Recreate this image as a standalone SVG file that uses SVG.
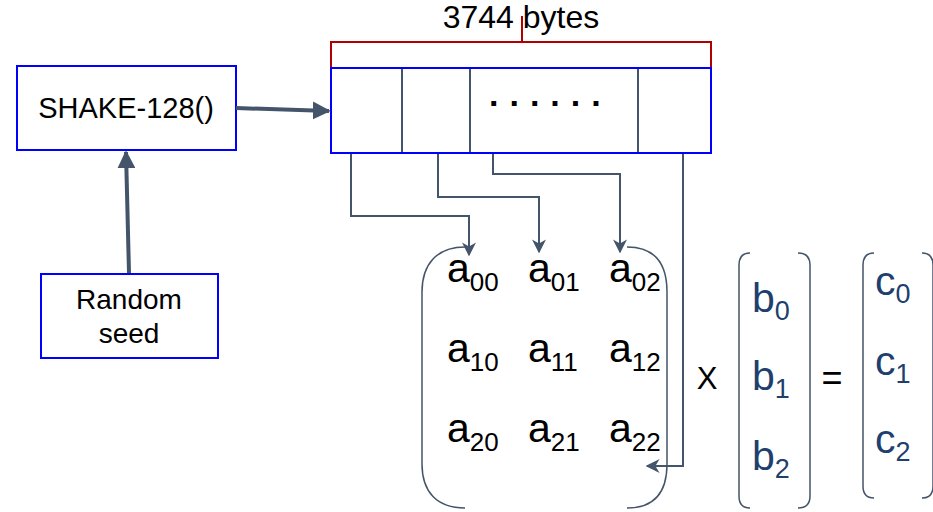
<svg xmlns="http://www.w3.org/2000/svg" width="933" height="512" viewBox="0 0 933 512">
  <defs>
    <marker id="head" viewBox="0 0 10 10" refX="9" refY="5" markerWidth="14" markerHeight="14" markerUnits="userSpaceOnUse" orient="auto">
      <path d="M0,0 L10,5 L0,10 L3,5 Z" fill="#44546A"/>
    </marker>
    <marker id="headBig" viewBox="0 0 10 10" refX="9" refY="5" markerWidth="4.5" markerHeight="4.5" orient="auto">
      <path d="M0,0 L10,5 L0,10 Z" fill="#44546A"/>
    </marker>
  </defs>
  <style>
    .box { fill: #FFFFFF; stroke: #0000FF; stroke-width: 2; }
    .div { stroke: #44546A; stroke-width: 2; }
    .lbl { font-family: "Liberation Sans", Arial, sans-serif; fill: #000000; }
    .wire { fill: none; stroke: #44546A; stroke-width: 2; marker-end: url(#head); }
    .thick { fill: none; stroke: #44546A; stroke-width: 4; marker-end: url(#headBig); }
    .brk { fill: none; stroke: #44546A; stroke-width: 1.5; }
    .el { font-family: "Liberation Sans", Arial, sans-serif; font-size: 41px; fill: #000000; }
    .sub { font-size: 26px; }
    .vec { font-family: "Liberation Sans", Arial, sans-serif; font-size: 41px; fill: #1F3F6E; }
    .vsub { font-size: 27px; }
  </style>

  <!-- hash function -->
  <g id="shake">
    <rect class="box" x="17" y="66" width="219" height="84"/>
    <text class="lbl" x="126" y="118" font-size="29" text-anchor="middle">SHAKE-128()</text>
  </g>

  <!-- seed input -->
  <g id="seed">
    <rect class="box" x="41" y="274" width="177" height="84"/>
    <text class="lbl" x="129" y="309" font-size="28" text-anchor="middle">Random</text>
    <text class="lbl" x="129" y="343" font-size="28" text-anchor="middle">seed</text>
  </g>

  <!-- output byte stream -->
  <g id="buffer">
    <rect class="box" x="331" y="68" width="380" height="85"/>
    <line class="div" x1="402" y1="69" x2="402" y2="152"/>
    <line class="div" x1="470" y1="69" x2="470" y2="152"/>
    <line class="div" x1="638" y1="69" x2="638" y2="152"/>
    <text class="lbl" x="489" y="106" font-size="34" font-weight="bold" letter-spacing="11">......</text>
  </g>

  <!-- size annotation -->
  <g id="size">
    <path d="M331,67 V42 H711 V67 M522,42 V16" fill="none" stroke="#B00000" stroke-width="2"/>
    <text class="lbl" x="521" y="28" font-size="32" text-anchor="middle">3744 bytes</text>
  </g>

  <!-- matrix A -->
  <g id="matrixA">
    <path class="brk" d="M465,247 C437,247 422,264 422,292 V464 C422,492 437,508 465,508"/>
    <path class="brk" d="M627,247 C655,247 667,264 667,292 V464 C667,492 655,508 627,508"/>
    <text class="el" x="447" y="282">a<tspan class="sub" dy="9">00</tspan></text>
    <text class="el" x="528" y="282">a<tspan class="sub" dy="9">01</tspan></text>
    <text class="el" x="609" y="282">a<tspan class="sub" dy="9">02</tspan></text>
    <text class="el" x="447" y="362">a<tspan class="sub" dy="9">10</tspan></text>
    <text class="el" x="528" y="362">a<tspan class="sub" dy="9">11</tspan></text>
    <text class="el" x="609" y="362">a<tspan class="sub" dy="9">12</tspan></text>
    <text class="el" x="447" y="442">a<tspan class="sub" dy="9">20</tspan></text>
    <text class="el" x="528" y="442">a<tspan class="sub" dy="9">21</tspan></text>
    <text class="el" x="609" y="442">a<tspan class="sub" dy="9">22</tspan></text>
  </g>

  <g id="times">
    <text class="lbl" x="707" y="389" font-size="31" text-anchor="middle">X</text>
  </g>

  <!-- vector b -->
  <g id="vectorB">
    <path class="brk" d="M750,253 C742,253 739,257 739,265 V496 C739,504 742,508 750,508"/>
    <path class="brk" d="M798,253 C806,253 810,257 810,265 V496 C810,504 806,508 798,508"/>
    <text class="vec" x="752" y="312">b<tspan class="vsub" dy="8">0</tspan></text>
    <text class="vec" x="752" y="390">b<tspan class="vsub" dy="8">1</tspan></text>
    <text class="vec" x="752" y="470">b<tspan class="vsub" dy="8">2</tspan></text>
  </g>

  <g id="equals">
    <text class="lbl" x="832" y="390" font-size="36" text-anchor="middle">=</text>
  </g>

  <!-- vector c -->
  <g id="vectorC">
    <path class="brk" d="M874,253 C866,253 863,257 863,265 V486 C863,494 866,498 874,498"/>
    <path class="brk" d="M922,253 C930,253 933,257 933,265 V486 C933,494 930,498 922,498"/>
    <text class="vec" x="875" y="295">c<tspan class="vsub" dy="8">0</tspan></text>
    <text class="vec" x="875" y="375">c<tspan class="vsub" dy="8">1</tspan></text>
    <text class="vec" x="875" y="453">c<tspan class="vsub" dy="8">2</tspan></text>
  </g>

  <!-- connectors -->
  <g id="connectors">
    <path class="thick" d="M236,108 L329,111"/>
    <path class="thick" d="M129,273 L126,152"/>
    <path class="wire" d="M351,154 V216 H469 V255"/>
    <path class="wire" d="M438,154 V197 H539 V252"/>
    <path class="wire" d="M493,154 V174 H620 V252"/>
    <path class="wire" d="M683,154 V466 H647"/>
  </g>
</svg>
